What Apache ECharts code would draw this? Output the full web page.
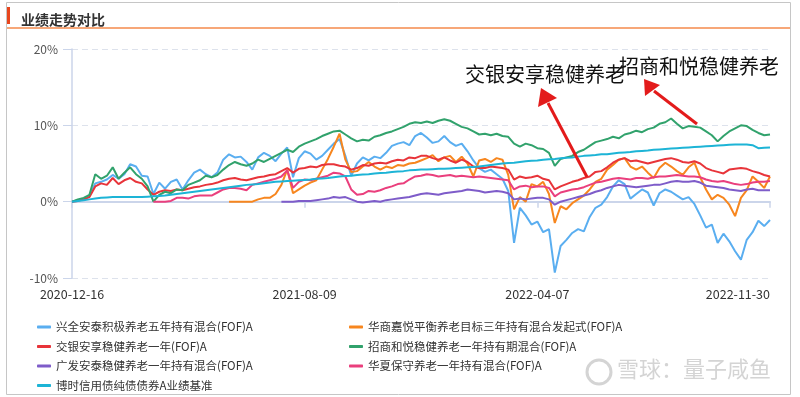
<!DOCTYPE html>
<html>
<head>
<meta charset="utf-8">
<script src="https://cdn.jsdelivr.net/npm/echarts@6/dist/echarts.min.js"></script>
<style>
  html, body { margin: 0; padding: 0; background: #fff; }
  #perf_chart { width: 800px; height: 397px; }
</style>
</head>
<body>
<div id="perf_chart"></div>
<script>
// tick dates shown on the x axis (every 40 points)
var tickDates = ['2020-12-16', '2021-08-09', '2022-04-07', '2022-11-30'];
var yTicks = [-10, 0, 10, 20];

// cumulative return (%)
var xingquan = [
  0, 0.2, 0.3, 0.8, 2.4, 2.6, 2.9, 3.5, 3.0, 3.6,
  4.9, 4.6, 3.4, 3.3, 1.0, 2.5, 1.7, 2.6, 2.9, 1.6,
  2.8, 3.8, 4.2, 3.6, 3.2, 3.8, 5.5, 6.2, 5.8, 5.9,
  5.2, 4.2, 5.8, 6.4, 6.0, 5.3, 6.3, 7.1, 3.2, 5.7,
  6.6, 6.3, 5.5, 6.0, 6.8, 7.6, 8.2, 6.0, 3.4, 5.0,
  5.8, 5.4, 5.9, 5.7, 6.4, 7.3, 7.6, 7.8, 7.4, 8.6,
  9.0, 8.4, 7.7, 7.9, 8.6, 7.8, 7.3, 7.6, 6.6, 5.4,
  4.4, 3.9, 4.2, 3.6, 3.0, 1.4, -5.4, -0.8, -1.8, -3.0,
  -2.6, -4.0, -3.6, -9.3, -5.8, -5.0, -4.1, -3.6, -3.9, -2.0,
  -0.8, -0.4, 0.6, 2.0, 2.8, 2.3, 0.4, 1.0, 1.6, 1.2,
  -0.5, 1.1, 1.6, 1.3, 0.8, 0.3, 0.6, -0.3, -1.8, -3.4,
  -3.0, -5.4, -4.2, -5.2, -6.5, -7.6, -5.0, -4.0, -2.5, -3.2,
  -2.4
];
var jiaoyin = [
  0, 0.1, 0.3, 0.6, 2.0, 2.4, 2.2, 3.1, 2.3, 2.8,
  3.1, 2.6, 2.4, 1.6, 0.9, 1.3, 1.5, 1.4, 1.6, 1.5,
  1.7, 1.9, 2.0, 2.2, 2.3, 2.5, 2.8, 3.0, 3.1, 2.9,
  2.8, 3.0, 3.2, 3.3, 3.5, 3.6, 4.0, 4.4, 3.8, 4.3,
  4.4, 4.6, 4.5, 4.8, 4.9, 4.9, 4.7, 4.6, 4.2, 4.4,
  4.8, 4.7, 5.0, 5.1, 5.0, 5.3, 5.5, 5.4, 5.8, 5.7,
  6.0, 6.0, 5.7, 5.5, 5.8, 5.4, 5.1, 5.5, 5.2, 4.6,
  4.4, 4.4, 4.6, 4.5, 4.4, 4.2, 2.9, 3.3, 3.1, 3.2,
  3.4, 3.0, 2.8, 1.6, 2.0, 2.3, 2.6, 2.8, 3.1, 3.3,
  3.9, 4.0, 4.5, 5.1, 5.5, 5.7, 5.3, 5.4, 5.2, 5.0,
  5.2, 5.4, 5.6, 5.7, 5.5, 5.2, 5.1, 5.3, 5.0, 4.4,
  4.1, 3.9, 3.7, 4.2, 4.3, 4.4, 4.3, 4.0, 3.8, 3.5,
  3.3
];
var zhaoshang = [
  0, 0.3, 0.5, 0.9, 3.6, 3.0, 3.4, 4.5, 3.0, 3.8,
  4.5, 3.6, 3.0, 2.0, 0.0, 0.9, 1.3, 1.1, 1.6, 1.5,
  2.2, 2.5, 2.8, 3.4, 3.2, 3.5, 4.2, 4.8, 5.2, 4.9,
  4.7, 5.0, 5.5, 5.2, 5.6, 6.0, 6.4, 6.8, 6.5, 7.2,
  7.6, 7.9, 8.2, 8.6, 8.9, 9.2, 9.3, 8.8, 8.3, 7.9,
  8.1, 8.0, 8.5, 8.7, 9.0, 9.2, 9.5, 9.8, 10.2, 10.4,
  10.3, 10.5, 10.3, 10.6, 10.8, 10.6, 10.2, 9.8, 9.6, 9.2,
  8.8, 8.9, 8.7, 8.9, 8.6, 8.5, 7.6, 7.2, 7.6, 7.4,
  7.0, 6.9, 6.4, 4.7, 5.6, 5.8, 6.0, 6.5, 6.8, 7.3,
  7.8, 8.0, 8.2, 8.5, 8.3, 8.8, 9.0, 9.3, 9.1, 9.5,
  9.7, 10.2, 10.4, 10.9, 10.2, 9.6, 9.9, 9.8, 9.7, 9.2,
  8.7, 7.9, 8.6, 9.2, 9.6, 10.0, 9.9, 9.4, 9.0, 8.7,
  8.8
];
var benchmark = [
  0, 0.1, 0.2, 0.3, 0.4, 0.5, 0.55, 0.6, 0.6, 0.6,
  0.6, 0.6, 0.6, 0.65, 0.7, 0.75, 0.8, 0.9, 1.0, 1.1,
  1.2, 1.3, 1.4, 1.5, 1.6, 1.7, 1.8, 1.9, 2.0, 2.1,
  2.2, 2.25, 2.3, 2.4, 2.5, 2.6, 2.65, 2.7, 2.75, 2.8,
  2.85, 2.9, 3.0, 3.05, 3.1, 3.2, 3.3, 3.35, 3.4, 3.5,
  3.55, 3.6, 3.7, 3.75, 3.8, 3.9, 3.95, 4.0, 4.1, 4.15,
  4.2, 4.2, 4.25, 4.3, 4.3, 4.35, 4.4, 4.45, 4.5, 4.55,
  4.6, 4.7, 4.8, 4.9, 5.0, 5.05, 5.1, 5.2, 5.3, 5.35,
  5.4, 5.5, 5.55, 5.6, 5.7, 5.75, 5.8, 5.9, 6.0, 6.05,
  6.1, 6.2, 6.2, 6.3, 6.4, 6.45, 6.5, 6.6, 6.65, 6.7,
  6.8, 6.85, 6.9, 6.95, 7.0, 7.05, 7.1, 7.15, 7.2, 7.25,
  7.3, 7.35, 7.4, 7.45, 7.5, 7.5, 7.5, 7.4, 7.0, 7.05,
  7.1
];
// funds launched later: first point index + values from there on
var huaxiaStart = 14;
var huaxia = [
  0, 0.0, 0.0, 0.1, 0.5, 0.5, 0.4, 0.7, 0.8, 0.8, 0.8, 1.2, 1.6, 1.8, 1.8, 1.7, 1.5,
  2.2, 2.4, 2.6, 2.8, 3.0, 3.3, 4.1, 1.8, 2.6, 2.9, 2.8, 3.0, 3.2, 3.4, 3.8,
  3.7, 3.3, 1.6, 0.9, 1.0, 1.4, 1.3, 1.5, 1.8, 2.0, 2.3, 2.4, 2.9, 3.3, 3.4,
  3.6, 3.5, 3.3, 3.4, 3.5, 3.3, 3.4, 3.3, 3.2, 3.3, 3.2, 3.1, 3.0, 2.9, 2.8,
  1.6, 2.0, 2.1, 1.9, 2.0, 2.0, 1.8, 0.7, 1.2, 1.4, 1.6, 1.7, 1.9, 2.2, 2.5,
  2.6, 2.8, 3.0, 3.1, 3.0, 2.9, 3.1, 3.1, 3.0, 3.2, 3.3, 3.3, 3.4, 3.5, 3.4,
  3.3, 3.3, 3.2, 2.9, 2.7, 2.6, 2.7, 2.5, 2.3, 2.2, 2.3, 2.5, 2.6, 2.6, 2.7
];
var huashangStart = 27;
var huashang = [
  0.0, 0.0, 0.0, 0.0, 0.0, 0.3, 0.5, 0.5, 1.0, 2.2, 4.2, 1.1, 1.6, 2.1, 2.5, 2.8, 4.2,
  5.6, 7.2, 8.9, 5.5, 3.9, 4.0, 4.6, 5.2, 4.6, 4.2, 4.6, 4.4, 4.8, 4.7, 5.0, 5.1, 5.4,
  5.7, 6.1, 5.3, 5.8, 6.0, 5.2, 5.9, 5.0, 3.3, 5.4, 5.6, 5.2, 5.7, 5.5, 3.5,
  -1.0, 0.6, 0.0, 2.3, 2.0, 2.6, 1.0, -2.8, -0.6, -1.0, -0.2, 0.3, 0.8, 1.6, 2.6,
  3.0, 4.2, 4.8, 5.5, 5.7, 4.6, 4.2, 4.6, 3.8, 3.1, 4.4, 5.1, 4.6, 4.0, 3.5,
  4.5, 5.1, 3.2, 1.6, 0.3, 0.9, 0.5, -0.4, -1.9, 0.5, 1.5, 3.3, 2.6, 1.8, 3.3
];
var guangfaStart = 36;
var guangfa = [
  0.0, 0.0, 0.0, 0.1, 0.1, 0.1, 0.2, 0.3, 0.4, 0.6, 0.5, 0.6, 0.3, 0.0, -0.1,
  0.0, 0.1, 0.0, 0.2, 0.3, 0.4, 0.5, 0.6, 0.8, 1.0,
  1.1, 1.0, 0.9, 1.1, 1.2, 1.3, 1.4, 1.6, 1.5, 1.4, 1.2, 1.3, 1.4, 1.3, 1.1,
  0.3, 0.4, 0.3, 0.4, 0.5, 0.5, 0.3, -0.4, 0.0, 0.2, 0.4, 0.6, 0.8, 1.0, 1.3,
  1.5, 1.8, 2.0, 2.2, 2.1, 2.0, 1.9, 2.0, 2.1, 2.2, 2.2, 2.4, 2.6, 2.7, 2.6,
  2.6, 2.7, 2.5, 2.1, 2.0, 1.9, 1.8, 1.6, 1.5, 1.4, 1.6, 1.7, 1.5, 1.5, 1.5
];

var names = [
  '兴全安泰积极养老五年持有混合(FOF)A',
  '华商嘉悦平衡养老目标三年持有混合发起式(FOF)A',
  '交银安享稳健养老一年(FOF)A',
  '招商和悦稳健养老一年持有期混合(FOF)A',
  '广发安泰稳健养老一年持有混合(FOF)A',
  '华夏保守养老一年持有混合(FOF)A',
  '博时信用债纯债债券A业绩基准'
];
var colors = ['#5aaef0', '#f7861e', '#e8343a', '#31a26c', '#7e5cc9', '#ea3f7d', '#1db4d6'];

// build the category dates: 40 steps between each pair of tick dates
function buildDates() {
    var out = [];
    for (var s = 0; s < tickDates.length - 1; s++) {
        var a = Date.parse(tickDates[s]), b = Date.parse(tickDates[s + 1]);
        for (var k = 0; k < 40; k++) {
            out.push(new Date(a + (b - a) * k / 40).toISOString().slice(0, 10));
        }
    }
    out.push(tickDates[tickDates.length - 1]);
    return out;
}
function shifted(arr, start) {
    return arr.map(function (v, k) { return [k + start, v]; });
}

var dates = buildDates();
var seriesData = [
    xingquan,
    shifted(huashang, huashangStart),
    jiaoyin,
    zhaoshang,
    shifted(guangfa, guangfaStart),
    shifted(huaxia, huaxiaStart),
    benchmark
];

var chart = echarts.init(document.getElementById('perf_chart'));
var fontFamily = '"Noto Sans CJK SC", "Noto Sans", sans-serif';
var legendBase = {
    orient: 'vertical',
    top: 320,
    height: 80,
    padding: 0,
    icon: 'roundRect',
    itemWidth: 14,
    itemHeight: 3,
    itemGap: 5.5,
    textStyle: { fontSize: 11.5, color: '#333', lineHeight: 14, fontFamily: fontFamily }
};

var option = {
    animation: false,
    color: colors,
    textStyle: { fontFamily: fontFamily },
    title: {
        text: '业绩走势对比',
        left: 16,
        top: 8,
        textStyle: { fontSize: 14, fontWeight: 'bold', color: '#333', fontFamily: fontFamily }
    },
    legend: [
        Object.assign({ left: 37, data: [names[0], names[2], names[4], names[6]] }, legendBase),
        Object.assign({ left: 349, data: [names[1], names[3], names[5]] }, legendBase)
    ],
    grid: { left: 72, right: 30, top: 49, bottom: 119 },
    xAxis: {
        type: 'category',
        boundaryGap: false,
        data: dates,
        axisLine: { lineStyle: { color: '#cbd5ea', width: 2 } },
        axisTick: { interval: 39, length: 6, lineStyle: { color: '#cbd5ea', width: 1.5 } },
        axisLabel: {
            interval: 39, color: '#333', fontSize: 12.5, margin: 10,
            alignMaxLabel: 'right'
        },
        splitLine: { show: false }
    },
    yAxis: {
        type: 'value',
        min: yTicks[0],
        max: yTicks[yTicks.length - 1],
        interval: 10,
        axisLine: { show: true, lineStyle: { color: '#cbd5ea', width: 1.5 } },
        axisTick: { show: true, length: 9, lineStyle: { color: '#cbd5ea' } },
        axisLabel: { formatter: '{value}%', color: '#555', fontSize: 12, margin: 14 },
        splitLine: { lineStyle: { color: '#dde2ec', type: [6, 4] } }
    },
    series: names.map(function (n, i) {
        return {
            name: n,
            type: 'line',
            data: seriesData[i],
            showSymbol: false,
            symbol: 'none',
            lineStyle: { width: 2, color: colors[i] },
            itemStyle: { color: colors[i] }
        };
    }),
    graphic: [
        // frame, title marker and underline
        { type: 'rect', shape: { x: 6.5, y: 2.5, width: 784, height: 392 },
          style: { fill: 'none', stroke: '#c6c6c6', lineWidth: 1 }, silent: true },
        { type: 'rect', shape: { x: 7, y: 7, width: 3, height: 17 }, style: { fill: '#e8461e' } },
        { type: 'line', shape: { x1: 7, y1: 28, x2: 790, y2: 28 }, style: { stroke: '#f7a778', lineWidth: 2 } },
        // annotations
        { type: 'line', shape: { x1: 587, y1: 177, x2: 548, y2: 103 }, style: { stroke: '#e31b1b', lineWidth: 3 }, z: 100 },
        { type: 'polygon', shape: { points: [[541, 88], [538, 107], [557, 98]] }, style: { fill: '#e31b1b' }, z: 100 },
        { type: 'line', shape: { x1: 697, y1: 124, x2: 654, y2: 91 }, style: { stroke: '#e31b1b', lineWidth: 3 }, z: 100 },
        { type: 'polygon', shape: { points: [[644, 79], [645, 96], [660, 85]] }, style: { fill: '#e31b1b' }, z: 100 },
        { type: 'text', left: 465, top: 64, z: 100,
          style: { text: '交银安享稳健养老', font: '20px ' + fontFamily, fill: '#111' } },
        { type: 'text', left: 619, top: 56, z: 100,
          style: { text: '招商和悦稳健养老', font: '20px ' + fontFamily, fill: '#111' } },
        // watermark
        { type: 'circle', shape: { cx: 599, cy: 372, r: 12 }, style: { fill: 'none', stroke: '#d4d4d4', lineWidth: 3 }, z: 90 },
        { type: 'text', left: 617, top: 358, z: 90,
          style: { text: '雪球：量子咸鱼', font: '22px ' + fontFamily, fill: '#d4d4d4' } }
    ]
};
chart.setOption(option);

window.addEventListener('resize', function () {
    chart.resize();
});
</script>
</body>
</html>
